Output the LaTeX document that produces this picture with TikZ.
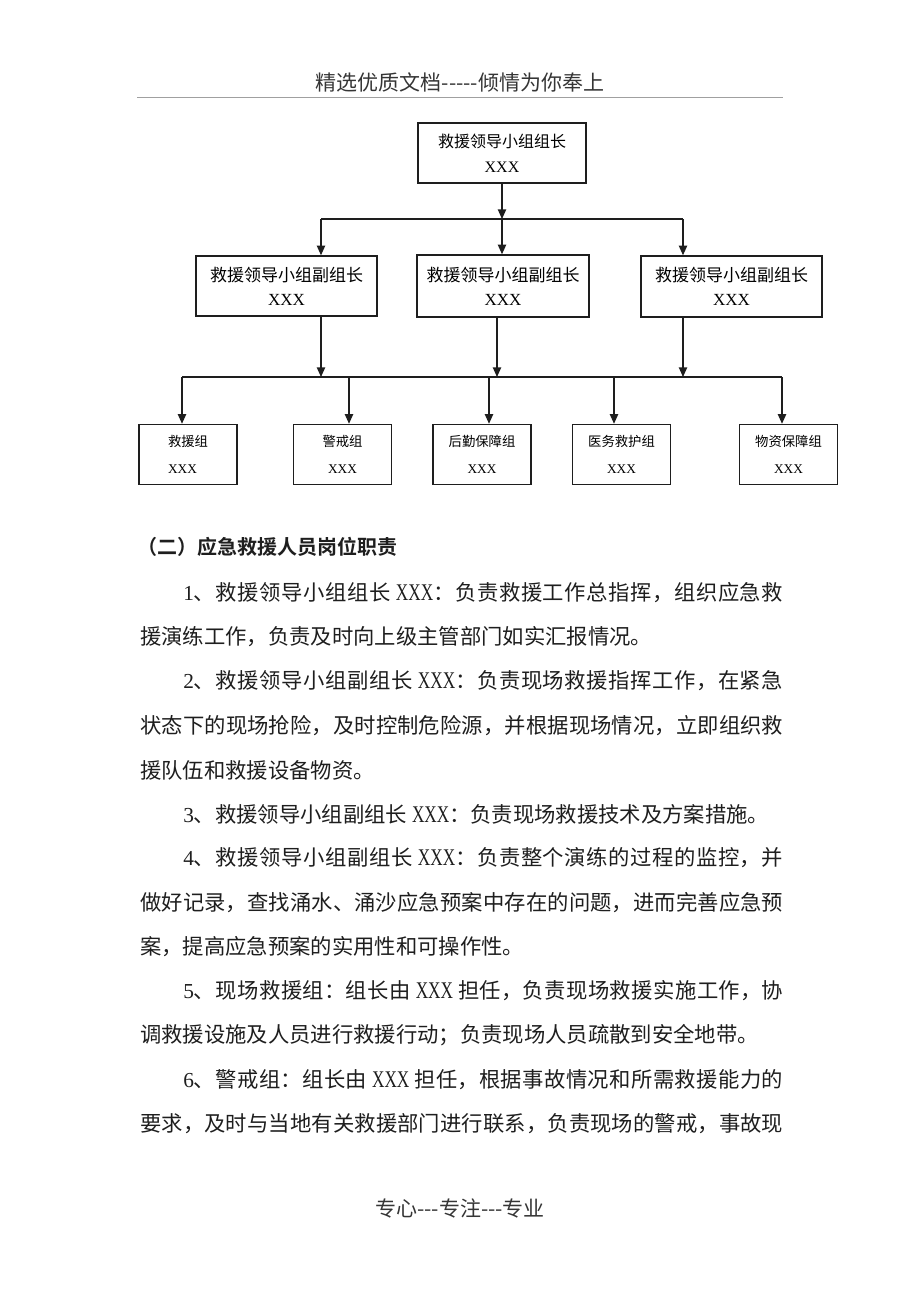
\documentclass[tikz,border=0pt]{standalone}
\usepackage{fontspec}
\setmainfont{Noto Sans CJK SC}[BoldFont={Noto Sans CJK SC Bold}]
\newfontfamily\lat{Liberation Serif}[Scale=1.12,FakeStretch=0.72]
\newfontfamily\boxlat{Liberation Serif}
\usetikzlibrary{arrows.meta}
\XeTeXlinebreaklocale "zh"
\XeTeXlinebreakskip=0pt plus 4pt
\definecolor{ink}{HTML}{1E1E1E}
\definecolor{rule}{HTML}{A0A0A0}
\tikzset{
  pagehead/.style={font=\fontsize{15.75}{18}\selectfont,text=ink!90},
  orgbox/.style={draw=ink,line width=1.1pt,fill=white,align=center,inner sep=0pt},
  topbox/.style={orgbox,minimum width=126pt,minimum height=45pt,font=\fontsize{12}{18.75}\selectfont},
  midbox/.style={orgbox,minimum width=135.75pt,minimum height=45pt,font=\fontsize{12.75}{18}\selectfont},
  teambox/.style={orgbox,minimum width=73.5pt,minimum height=45pt,font=\fontsize{10}{20}\selectfont},
  link/.style={draw=ink,line width=1pt},
  arr/.style={-{Triangle[length=7.2pt,width=6.2pt]},draw=ink,line width=1pt},
  body/.style={anchor=west,inner sep=0pt,font=\fontsize{16}{18}\selectfont,text=ink},
  heading/.style={body,font=\bfseries\fontsize{15}{18}\selectfont}
}
\newcommand{\nm}{{\lat XXX}}
\newcommand{\bnm}{{\boxlat XXX}}
\newcommand{\fullline}[1]{\parbox{482.25pt}{\parfillskip=0pt\relax #1\par}}
\newcommand{\indline}[1]{\parbox{450pt}{\parfillskip=0pt\relax #1\par}}

\begin{document}
\begin{tikzpicture}[x=0.75pt,y=-0.75pt]
\path[use as bounding box] (0,0) rectangle (920,1302);
\node[pagehead] (head) at (460,82) {精选优质文档{-}{-}{-}{-}{-}倾情为你奉上};
\draw[rule,line width=0.6pt] (137,97) -- (783,97);

% organisation chart
\node[topbox] (lead) at (502,153) {救援领导小组组长\\\bnm};
\node[midbox] (dep1) at (286.5,286) {救援领导小组副组长\\\bnm};
\node[midbox,minimum width=129pt,minimum height=46.5pt] (dep2) at (503,286) {救援领导小组副组长\\\bnm};
\node[midbox,minimum height=45.75pt] (dep3) at (731.5,286.5) {救援领导小组副组长\\\bnm};

\coordinate (j1) at (502,219);
\coordinate (j1l) at (321,219);
\coordinate (j1r) at (683,219);
\draw[arr] (lead) -- (j1);
\draw[link] (j1l) -- (j1r);
\draw[arr] (j1l) -- (j1l |- dep1.north);
\draw[arr] (j1) -- (j1 |- dep2.north);
\draw[arr] (j1r) -- (j1r |- dep3.north);

\node[teambox,align=left] (g1) at (188,454.5) {救援组\\\bnm};
\node[teambox] (g2) at (342.5,454.5) {警戒组\\\bnm};
\node[teambox] (g3) at (482,454.5) {后勤保障组\\\bnm};
\node[teambox] (g4) at (621.5,454.5) {医务救护组\\\bnm};
\node[teambox] (g5) at (788.5,454.5) {物资保障组\\\bnm};

\coordinate (k1) at (321,377);
\coordinate (k2) at (497,377);
\coordinate (k3) at (683,377);
\draw[arr] (dep1.south -| k1) -- (k1);
\draw[arr] (dep2.south -| k2) -- (k2);
\draw[arr] (dep3.south -| k3) -- (k3);

\coordinate (d1) at (182,377);
\coordinate (d2) at (349,377);
\coordinate (d3) at (489,377);
\coordinate (d4) at (614,377);
\coordinate (d5) at (782,377);
\draw[link] (d1) -- (d5);
\draw[arr] (d1) -- (d1 |- g1.north);
\draw[arr] (d2) -- (d2 |- g2.north);
\draw[arr] (d3) -- (d3 |- g3.north);
\draw[arr] (d4) -- (d4 |- g4.north);
\draw[arr] (d5) -- (d5 |- g5.north);

% duties
\node[heading] (sec) at (137,547) {（二）应急救援人员岗位职责};
\node[body] (l1) at (183,593) {\indline{{\boxlat 1}、救援领导小组组长 \nm：负责救援工作总指挥，组织应急救}};
\node[body] (l2) at (140,637) {援演练工作，负责及时向上级主管部门如实汇报情况。};
\node[body] (l3) at (183,681) {\indline{{\boxlat 2}、救援领导小组副组长 \nm：负责现场救援指挥工作，在紧急}};
\node[body] (l4) at (140,726) {\fullline{状态下的现场抢险，及时控制危险源，并根据现场情况，立即组织救}};
\node[body] (l5) at (140,770) {援队伍和救援设备物资。};
\node[body] (l6) at (183,814) {{\boxlat 3}、救援领导小组副组长 \nm：负责现场救援技术及方案措施。};
\node[body] (l7) at (183,858) {\indline{{\boxlat 4}、救援领导小组副组长 \nm：负责整个演练的过程的监控，并}};
\node[body] (l8) at (140,903) {\fullline{做好记录，查找涌水、涌沙应急预案中存在的问题，进而完善应急预}};
\node[body] (l9) at (140,947) {案，提高应急预案的实用性和可操作性。};
\node[body] (l10) at (183,991) {\indline{{\boxlat 5}、现场救援组：组长由 \nm{} 担任，负责现场救援实施工作，协}};
\node[body] (l11) at (140,1035) {调救援设施及人员进行救援行动；负责现场人员疏散到安全地带。};
\node[body] (l12) at (183,1080) {\indline{{\boxlat 6}、警戒组：组长由 \nm{} 担任，根据事故情况和所需救援能力的}};
\node[body] (l13) at (140,1124) {\fullline{要求，及时与当地有关救援部门进行联系，负责现场的警戒，事故现}};

\node[pagehead] (foot) at (460,1208) {专心{-}{-}{-}专注{-}{-}{-}专业};
\end{tikzpicture}
\end{document}
